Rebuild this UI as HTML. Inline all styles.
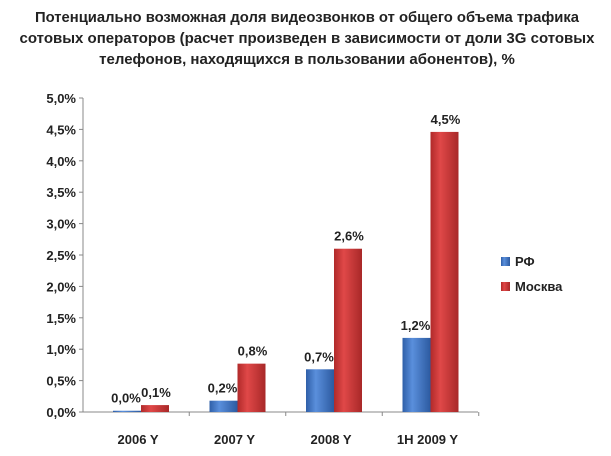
<!DOCTYPE html>
<html><head><meta charset="utf-8"><style>
body{margin:0;background:#fff;width:611px;height:451px;overflow:hidden;font-family:"Liberation Sans","DejaVu Sans",sans-serif}
</style></head><body>
<svg width="611" height="451" xmlns="http://www.w3.org/2000/svg">
<defs>
<linearGradient id="gb" x1="0" x2="1" y1="0" y2="0"><stop offset="0" stop-color="#2f5fa8"/><stop offset="0.35" stop-color="#5a8fdc"/><stop offset="1" stop-color="#2c5aa0"/></linearGradient>
<linearGradient id="gr" x1="0" x2="1" y1="0" y2="0"><stop offset="0" stop-color="#b02a2a"/><stop offset="0.35" stop-color="#e04848"/><stop offset="1" stop-color="#a82828"/></linearGradient>
</defs>
<g font-weight="bold" font-size="15" fill="#222" text-anchor="middle">
<text x="307" y="22" textLength="544" lengthAdjust="spacingAndGlyphs">Потенциально возможная доля видеозвонков от общего объема трафика</text>
<text x="307" y="43">сотовых операторов (расчет произведен в зависимости от доли 3G сотовых</text>
<text x="307" y="64">телефонов, находящихся в пользовании абонентов), %</text>
</g>
<g id="axes"></g>
<g id="bars"></g>
<g font-size="13" font-weight="bold" fill="#222">
<rect x="501" y="257" width="9" height="9" fill="url(#gb)"/>
<text x="515" y="266">РФ</text>
<rect x="501" y="282" width="9" height="9" fill="url(#gr)"/>
<text x="515" y="291">Москва</text>
</g>
</svg>
<script>
const categories=["2006 Y","2007 Y","2008 Y","1H 2009 Y"];
const rfValues=[0.02,0.18,0.68,1.18];
const moscowValues=[0.11,0.77,2.6,4.46];
const rfLabels=["0,0%","0,2%","0,7%","1,2%"];
const moscowLabels=["0,1%","0,8%","2,6%","4,5%"];
const yTicks=[0,0.5,1,1.5,2,2.5,3,3.5,4,4.5,5];
const yTickLabels=["0,0%","0,5%","1,0%","1,5%","2,0%","2,5%","3,0%","3,5%","4,0%","4,5%","5,0%"];
const NS="http://www.w3.org/2000/svg";
const y0=412,yTop=98,xLeft=83,xRight=478,catW=96.5,firstC=141;
const y=v=>y0-(v/5)*(y0-yTop);
const cx=i=>firstC+catW*i;
function mk(t,a,p){const e=document.createElementNS(NS,t);for(const k in a)e.setAttribute(k,a[k]);p.appendChild(e);return e;}
const ax=document.getElementById('axes'),bs=document.getElementById('bars');
const yl=mk('line',{x1:xLeft,x2:xLeft,y1:yTop,y2:y0,stroke:'#888'},ax);


const xl=mk('line',{x1:xLeft,x2:xRight,y1:y0,y2:y0,stroke:'#888'},ax);


yTicks.forEach((v,i)=>{
 mk('line',{x1:xLeft-4,x2:xLeft,y1:y(v),y2:y(v),stroke:'#888'},ax);
 const t=mk('text',{x:xLeft-7,y:y(v)+5,'text-anchor':'end','font-size':13,'font-weight':'bold',fill:'#222'},ax);
 t.textContent=yTickLabels[i];
 
 
});
categories.forEach((c,i)=>{
 mk('line',{x1:cx(i)+catW/2,x2:cx(i)+catW/2,y1:y0,y2:y0+4,stroke:'#888'},ax);
 const t=mk('text',{x:cx(i)-3,y:y0+32,'text-anchor':'middle','font-size':13,'font-weight':'bold',fill:'#222'},ax);
 t.textContent=c;
 
 
 const bw=28;
 const r1=mk('rect',{x:cx(i)-bw,y:y(rfValues[i]),width:bw,height:y0-y(rfValues[i]),fill:'url(#gb)'},bs);
 
 
 const r2=mk('rect',{x:cx(i),y:y(moscowValues[i]),width:bw,height:y0-y(moscowValues[i]),fill:'url(#gr)'},bs);
 
 
 const l1=mk('text',{x:cx(i)-bw/2-1,y:y(rfValues[i])-8,'text-anchor':'middle','font-size':13,'font-weight':'bold',fill:'#222'},bs);
 l1.textContent=rfLabels[i];
 
 
 const l2=mk('text',{x:cx(i)+bw/2+1,y:y(moscowValues[i])-8,'text-anchor':'middle','font-size':13,'font-weight':'bold',fill:'#222'},bs);
 l2.textContent=moscowLabels[i];
 
 
});
</script>
</body></html>
